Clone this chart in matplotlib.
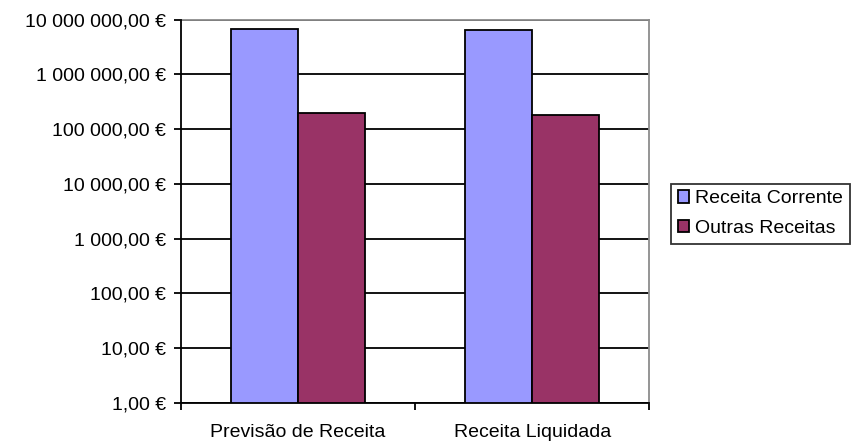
import numpy as np
import matplotlib
matplotlib.use('Agg')
import matplotlib.pyplot as plt
from matplotlib.ticker import FuncFormatter, FixedLocator

plt.rcParams['font.family'] = ['Liberation Sans', 'DejaVu Sans']
plt.rcParams['font.size'] = 14

categories = ['Previsão de Receita', 'Receita Liquidada']
receita_corrente = [6.7e6, 6.6e6]
outras_receitas = [1.95e5, 1.84e5]
series_names = ['Receita Corrente', 'Outras Receitas']
colors = ['#9999FF', '#993366']


def euro(v, pos):
    s = '{:,.2f}'.format(v)
    s = s.replace(',', ' ').replace('.', ',')
    return s + ' €'


fig = plt.figure(figsize=(8.61, 4.45), dpi=100)
ax = fig.add_axes([0.2102, 0.0944, 0.5439, 0.8613])

x = np.arange(len(categories))
w = 0.2855
ax.bar(x - w / 2, receita_corrente, w, color=colors[0], edgecolor='black',
       linewidth=1.3, label=series_names[0], zorder=3)
ax.bar(x + w / 2, outras_receitas, w, color=colors[1], edgecolor='black',
       linewidth=1.3, label=series_names[1], zorder=3)

ax.set_yscale('log')
ax.set_ylim(1, 1e7)
ax.set_xlim(-0.5, 1.5)
ax.yaxis.set_major_locator(FixedLocator([10.0 ** k for k in range(8)]))
ax.yaxis.set_minor_locator(FixedLocator([]))
ax.yaxis.set_major_formatter(FuncFormatter(euro))
ax.grid(axis='y', color='black', linewidth=1.3, zorder=0)

ax.set_xticks(x)
ax.set_xticklabels(categories)
ax.set_xticks([-0.5, 0.5, 1.5], minor=True)
ax.tick_params(axis='x', which='major', length=0, pad=15)
ax.tick_params(axis='x', which='minor', length=5, width=1.3, direction='out')
ax.tick_params(axis='y', which='major', length=5, width=1.3, pad=6)

for side in ['left', 'bottom']:
    ax.spines[side].set_linewidth(1.3)
    ax.spines[side].set_zorder(4)
for side in ['top', 'right']:
    ax.spines[side].set_color('#8c8c8c')
    ax.spines[side].set_linewidth(1.3)

leg = fig.legend(loc='lower left', bbox_to_anchor=(0.779, 0.452),
                 frameon=True, fancybox=False, shadow=False,
                 handlelength=0.6, handleheight=0.6, handletextpad=0.3,
                 borderpad=0.35, labelspacing=0.65, borderaxespad=0)
leg.get_frame().set_edgecolor('black')
leg.get_frame().set_linewidth(1.3)

fig.savefig('out.png', dpi=100)
